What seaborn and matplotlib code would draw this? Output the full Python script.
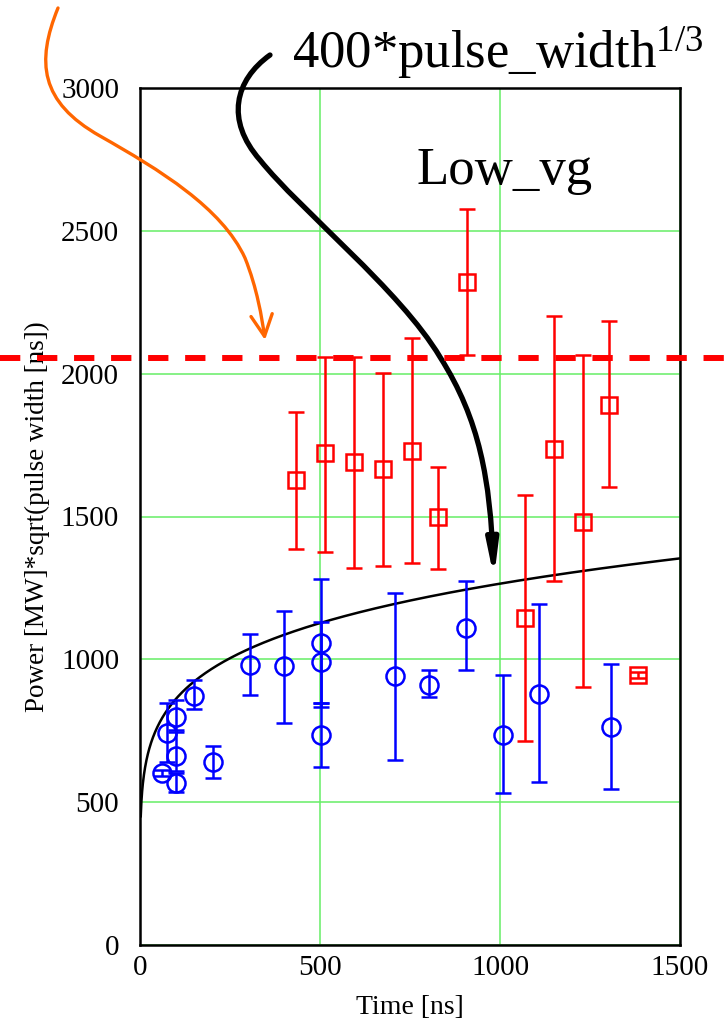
import numpy as np
import matplotlib
matplotlib.use("Agg")
import matplotlib.pyplot as plt
import seaborn as sns
from matplotlib.patches import FancyArrowPatch
from matplotlib.path import Path
from matplotlib.lines import Line2D

# ---------------- data ----------------
blue_t = [62, 76, 100, 100, 100, 150, 202, 306, 400, 502, 502, 502, 708, 804, 906, 1007, 1109, 1307]
blue_p = [603, 741, 799, 661, 568, 871, 640, 980, 977, 1056, 992, 735, 941, 910, 1108, 735, 877, 764]
blue_up = [10, 107, 58, 91, 34, 56, 57, 109, 192, 225, 140, 111, 292, 52, 166, 210, 315, 221]
blue_lo = [10, 100, 54, 51, 32, 46, 56, 106, 201, 222, 146, 111, 293, 43, 146, 204, 308, 219]

red_t = [433, 514, 594, 676, 756, 829, 909, 1069, 1151, 1231, 1304, 1384]
red_p = [1627, 1723, 1691, 1665, 1730, 1499, 2322, 1146, 1738, 1482, 1890, 945]
red_up = [240, 336, 368, 336, 395, 175, 256, 431, 464, 583, 295, 10]
red_lo = [242, 346, 370, 337, 392, 184, 257, 432, 464, 579, 288, 10]

limit_level = 2055
curve_coef = 400
curve_exp = 1 / 6
curve_t = np.arange(2, 1501, 1)

x_ticks = [0, 500, 1000, 1500]
y_ticks = [0, 500, 1000, 1500, 2000, 2500, 3000]

# ---------------- style ----------------
sns.set_theme(style="white")
plt.rcParams["font.family"] = ["Liberation Serif", "DejaVu Serif"]
plt.rcParams["mathtext.fontset"] = "custom"
plt.rcParams["mathtext.rm"] = "Liberation Serif"
plt.rcParams["mathtext.it"] = "Liberation Serif"
plt.rcParams["text.color"] = "black"
plt.rcParams["axes.labelcolor"] = "black"

W, H = 724, 1024
fig = plt.figure(figsize=(W / 100, H / 100), dpi=100)
ax = fig.add_axes([140 / W, 1 - 945 / H, 540 / W, (945 - 88) / H])

def fp(x, y):
    return (x / W, 1 - y / H)

ax.set_xlim(0, 1500)
ax.set_ylim(0, 3000)
ax.set_xticks(x_ticks)
ax.set_yticks(y_ticks)
ax.grid(True, color="#66ee66", linewidth=1.1)
ax.set_axisbelow(True)
for s in ax.spines.values():
    s.set_color("black")
    s.set_linewidth(1.8)
ax.tick_params(axis="both", length=0, labelsize=21, colors="black")
ax.tick_params(axis="y", pad=15)
ax.tick_params(axis="x", pad=7)
ax.set_xlabel("Time [ns]", fontsize=20, labelpad=10)
ax.set_ylabel("Power [MW]*sqrt(pulse width [ns])", fontsize=19.5, labelpad=8)

# model curve
curve_p = curve_coef * curve_t ** curve_exp
sns.lineplot(x=curve_t, y=curve_p, ax=ax, color="black", linewidth=1.8, zorder=3)

# data with error bars
ax.errorbar(blue_t, blue_p, yerr=[blue_lo, blue_up], fmt="o", color="#0000ff",
            mfc="none", mec="#0000ff", ms=13, mew=1.8, elinewidth=1.8,
            capsize=5.5, capthick=1.8, zorder=4)
ax.errorbar(red_t, red_p, yerr=[red_lo, red_up], fmt="s", color="#ff0000",
            mfc="none", mec="#ff0000", ms=11, mew=1.8, elinewidth=1.8,
            capsize=5.5, capthick=1.8, zorder=4)

# dashed limit line spanning the figure width
y_px = ax.transData.transform((0, limit_level))[1]
yl = y_px / H
fig.add_artist(Line2D([0, 1], [yl, yl], transform=fig.transFigure, color="#ff0000",
                      linewidth=4.3, dashes=(3.4, 2.8), zorder=5))

# annotations
fig.text(*fp(292, 68), "400*pulse_width$^{1/3}$", fontsize=38, ha="left", va="baseline")
fig.text(*fp(417, 184), "Low_vg", fontsize=38, ha="left", va="baseline")

# orange curved arrow
ov = [fp(58, 8), fp(36, 62), fp(40, 102), fp(100, 136),
      fp(160, 170), fp(222, 208), fp(245, 258),
      fp(257, 288), fp(262, 318), fp(265, 340)]
oc = [Path.MOVETO] + [Path.CURVE4] * 9
fig.add_artist(FancyArrowPatch(path=Path(ov, oc), transform=fig.transFigure,
                               arrowstyle="->,head_length=0.7,head_width=0.35",
                               mutation_scale=22, color="#ff6600", linewidth=2.4))

# black curved arrow
bv = [fp(270, 55), fp(235, 80), fp(225, 120), fp(260, 160),
      fp(300, 210), fp(400, 290), fp(440, 357),
      fp(480, 420), fp(490, 480), fp(494, 578)]
bc = [Path.MOVETO] + [Path.CURVE4] * 9
fig.add_artist(FancyArrowPatch(path=Path(bv, bc), transform=fig.transFigure,
                               arrowstyle="-|>,head_length=0.9,head_width=0.15",
                               mutation_scale=22, color="black", linewidth=3.8))

fig.savefig("out.png", dpi=100)
